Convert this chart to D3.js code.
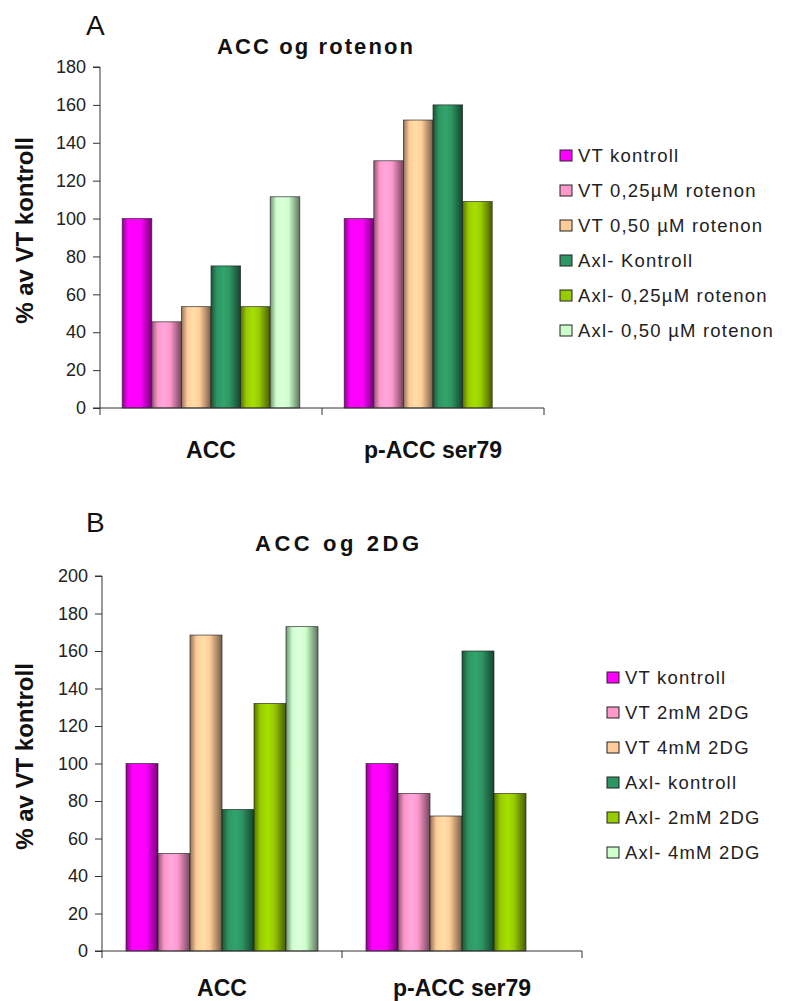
<!DOCTYPE html>
<html lang="en">
<head>
<meta charset="UTF-8">
<title>ACC og rotenon / ACC og 2DG</title>
<script src="https://cdn.jsdelivr.net/npm/d3@7"></script>
<style>
  body { margin: 0; background: white; }
  svg { display: block; font-family: "Liberation Sans", Arial, sans-serif; }
  .tick-label { font-size: 18px; fill: #222; }
  .cat-label { font-size: 23px; font-weight: bold; fill: #111; }
  .legend-text { font-size: 18.5px; fill: #222; letter-spacing: 1.2px; }
</style>
</head>
<body>
<svg id="chart" width="785" height="1001"></svg>
<script>
// data
const categories = ["ACC", "p-ACC ser79"];

const seriesA = ["VT kontroll", "VT 0,25µM rotenon", "VT 0,50 µM rotenon",
                 "Axl- Kontroll", "Axl- 0,25µM rotenon", "Axl- 0,50 µM rotenon"];
const valuesA = [
  [100, 45.5, 53.5, 75, 53.5, 111.5],   // ACC
  [100, 130.5, 152, 160, 109, null]     // p-ACC ser79
];
const ticksA = [0, 20, 40, 60, 80, 100, 120, 140, 160, 180];

const seriesB = ["VT kontroll", "VT 2mM 2DG", "VT 4mM 2DG",
                 "Axl- kontroll", "Axl- 2mM 2DG", "Axl- 4mM 2DG"];
const valuesB = [
  [100, 52, 168.5, 75.5, 132, 173],     // ACC
  [100, 84, 72, 160, 84, null]          // p-ACC ser79
];
const ticksB = [0, 20, 40, 60, 80, 100, 120, 140, 160, 180, 200];

const colors = ["#ff00ff", "#ff99cc", "#ffcc99", "#2e9663", "#99cc00", "#ccffcc"];

const svg = d3.select("#chart");
svg.append("rect").attr("width", 785).attr("height", 1001).attr("fill", "white");

// cylinder-ish shading like the old excel bars
const defs = svg.append("defs");
colors.forEach((c, i) => {
  const base = d3.color(c);
  const g = defs.append("linearGradient")
    .attr("id", "grad" + i)
    .attr("x1", "0%").attr("x2", "100%").attr("y1", "0%").attr("y2", "0%");
  g.append("stop").attr("offset", "0%").attr("stop-color", base.darker(1.6));
  g.append("stop").attr("offset", "20%").attr("stop-color", base);
  g.append("stop").attr("offset", "42%").attr("stop-color", base.brighter(0.25));
  g.append("stop").attr("offset", "62%").attr("stop-color", base);
  g.append("stop").attr("offset", "100%").attr("stop-color", base.darker(2.2));
});

function drawPanel(p) {
  const y = d3.scaleLinear().domain([0, p.ymax]).range([p.y0, p.y1]);
  const x = d3.scaleBand().domain(categories).range([p.x0, p.x1]).padding(0);
  const xs = d3.scaleBand().domain(d3.range(p.series.length))
    .range([x.bandwidth() * 0.1, x.bandwidth() * 0.9]).padding(0);

  const g = svg.append("g");

  // bars
  categories.forEach((cat, ci) => {
    p.values[ci].forEach((v, si) => {
      if (v == null) return;
      g.append("rect")
        .attr("x", x(cat) + xs(si))
        .attr("y", y(v))
        .attr("width", xs.bandwidth())
        .attr("height", y(0) - y(v))
        .attr("fill", "url(#grad" + si + ")")
        .attr("stroke", "#222")
        .attr("stroke-opacity", 0.8)
        .attr("stroke-width", 0.8);
    });
  });

  // y axis
  const yAxis = d3.axisLeft(y).tickValues(p.ticks).tickSize(7).tickPadding(7);
  const ya = g.append("g").attr("transform", `translate(${p.x0},0)`).call(yAxis);
  ya.select(".domain").attr("stroke", "#333").attr("d", `M-7,${y(p.ymax)}H0V${y(0)}`);
  ya.selectAll(".tick line").attr("stroke", "#333");
  ya.selectAll(".tick text").attr("class", "tick-label").attr("font-family", null).attr("font-size", null);

  // x axis: line + ticks at category boundaries
  g.append("line").attr("x1", p.x0 - 7).attr("x2", p.x1)
    .attr("y1", y(0)).attr("y2", y(0)).attr("stroke", "#333");
  const bounds = categories.map(c => x(c)).concat([x(categories[categories.length - 1]) + x.bandwidth()]);
  g.selectAll(".xtick").data(bounds).join("line")
    .attr("x1", d => d).attr("x2", d => d)
    .attr("y1", y(0)).attr("y2", y(0) + 7).attr("stroke", "#333");
  g.selectAll(".catlabel").data(categories).join("text")
    .attr("class", "cat-label")
    .attr("x", d => x(d) + x.bandwidth() / 2)
    .attr("y", p.catY)
    .attr("text-anchor", "middle")
    .text(d => d);

  // y label
  g.append("text")
    .attr("transform", `translate(${p.ylabX},${(p.y0 + p.y1) / 2 - 7}) rotate(-90)`)
    .attr("text-anchor", "middle")
    .attr("font-size", 24).attr("font-weight", "bold").attr("fill", "#111")
    .text("% av VT kontroll");

  // panel letter + title
  g.append("text").attr("x", 86).attr("y", p.letterY)
    .attr("font-size", 28).attr("fill", "#111").text(p.letter);
  g.append("text").attr("x", p.titleX).attr("y", p.titleY)
    .attr("font-size", 22).attr("font-weight", "bold").attr("fill", "#111")
    .attr("textLength", p.titleLen).attr("lengthAdjust", "spacing")
    .text(p.title);

  // legend
  const leg = g.append("g").attr("transform", `translate(${p.legX},${p.legY})`);
  p.series.forEach((s, i) => {
    const row = leg.append("g").attr("transform", `translate(0,${i * p.legStep})`);
    row.append("rect").attr("x", 0).attr("y", -5).attr("width", 12).attr("height", 11)
      .attr("fill", colors[i]).attr("stroke", "#222").attr("stroke-width", 1);
    row.append("text").attr("class", "legend-text").attr("x", 18).attr("y", 7).text(s);
  });
}

drawPanel({
  series: seriesA, values: valuesA, ticks: ticksA, ymax: 180,
  x0: 100, x1: 544, y0: 408, y1: 67, catY: 458, ylabX: 33,
  letter: "A", letterY: 35, title: "ACC og rotenon", titleX: 217, titleY: 54, titleLen: 196,
  legX: 560, legY: 155, legStep: 35
});

drawPanel({
  series: seriesB, values: valuesB, ticks: ticksB, ymax: 200,
  x0: 102, x1: 582, y0: 951, y1: 576, catY: 996, ylabX: 33,
  letter: "B", letterY: 532, title: "ACC og 2DG", titleX: 255, titleY: 551, titleLen: 164,
  legX: 607, legY: 677, legStep: 35
});
</script>
</body>
</html>
